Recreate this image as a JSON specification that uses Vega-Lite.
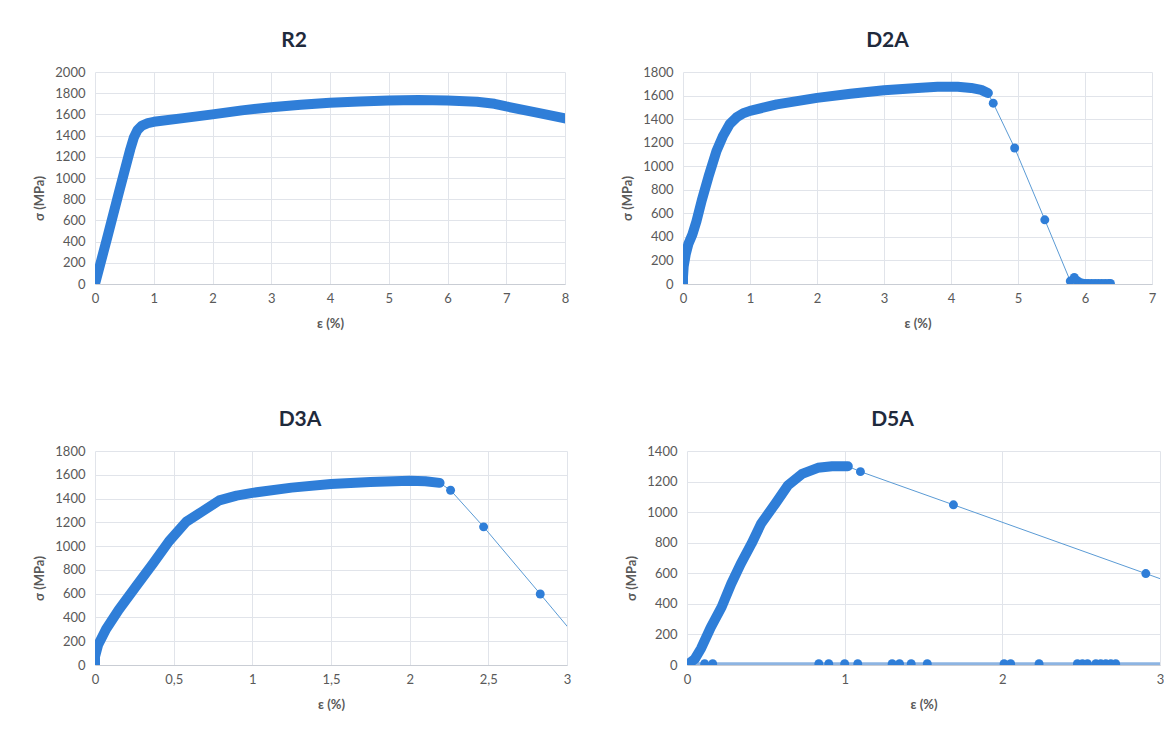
{
  "$schema": "https://vega.github.io/schema/vega-lite/v6.json",
  "background": "white",
  "padding": {"left": 33, "top": 30, "right": 0, "bottom": 0},
  "bounds": "flush",
  "spacing": 379,
  "config": {
    "font": "Lato",
    "view": {"stroke": null},
    "axis": {
      "labelFont": "Lato", "labelFontSize": 13, "labelColor": "#595959",
      "titleFont": "Lato", "titleFontSize": 13, "titleFontWeight": "bold", "titleColor": "#595959",
      "grid": true, "gridColor": "#e1e4ea", "gridWidth": 1,
      "ticks": false, "labelFlush": false, "labelOverlap": false, "domain": false
    },
    "axisX": {"domain": true, "domainColor": "#c9cdd4", "labelPadding": 8, "titlePadding": 12},
    "axisY": {"labelPadding": 10, "titlePadding": 8, "format": "d"},
    "title": {"font": "Lato", "fontSize": 21, "fontWeight": "bold", "color": "#1f2a3c", "anchor": "middle", "offset": 15}
  },
  "datasets": {
    "r2": [
      {"e": 0, "s": 0, "k": "c"}, {"e": 0.2, "s": 420, "k": "c"}, {"e": 0.4, "s": 850, "k": "c"}, {"e": 0.6, "s": 1270, "k": "c"},
      {"e": 0.66, "s": 1380, "k": "c"}, {"e": 0.72, "s": 1450, "k": "c"}, {"e": 0.8, "s": 1495, "k": "c"}, {"e": 0.9, "s": 1518, "k": "c"},
      {"e": 1.0, "s": 1530, "k": "c"}, {"e": 1.5, "s": 1565, "k": "c"}, {"e": 2.0, "s": 1600, "k": "c"}, {"e": 2.5, "s": 1638, "k": "c"},
      {"e": 3.0, "s": 1668, "k": "c"}, {"e": 3.5, "s": 1692, "k": "c"}, {"e": 4.0, "s": 1710, "k": "c"}, {"e": 4.5, "s": 1722, "k": "c"},
      {"e": 5.0, "s": 1730, "k": "c"}, {"e": 5.5, "s": 1735, "k": "c"}, {"e": 6.0, "s": 1730, "k": "c"}, {"e": 6.5, "s": 1720, "k": "c"},
      {"e": 6.8, "s": 1700, "k": "c"}, {"e": 7.0, "s": 1675, "k": "c"}, {"e": 7.5, "s": 1620, "k": "c"}, {"e": 8.0, "s": 1562, "k": "c"}
    ],
    "d2a": [
      {"e": 0, "s": 0, "k": "c"}, {"e": 0, "s": 60, "k": "c"}, {"e": 0.01, "s": 150, "k": "c"}, {"e": 0.04, "s": 250, "k": "c"},
      {"e": 0.08, "s": 340, "k": "c"}, {"e": 0.14, "s": 420, "k": "c"}, {"e": 0.2, "s": 530, "k": "c"}, {"e": 0.28, "s": 710, "k": "c"},
      {"e": 0.38, "s": 910, "k": "c"}, {"e": 0.5, "s": 1130, "k": "c"}, {"e": 0.6, "s": 1260, "k": "c"}, {"e": 0.7, "s": 1360, "k": "c"},
      {"e": 0.8, "s": 1415, "k": "c"}, {"e": 0.9, "s": 1450, "k": "c"}, {"e": 1.0, "s": 1470, "k": "c"}, {"e": 1.4, "s": 1525, "k": "c"},
      {"e": 2.0, "s": 1580, "k": "c"}, {"e": 2.5, "s": 1615, "k": "c"}, {"e": 3.0, "s": 1645, "k": "c"}, {"e": 3.5, "s": 1665, "k": "c"},
      {"e": 3.8, "s": 1675, "k": "c"}, {"e": 4.1, "s": 1675, "k": "c"}, {"e": 4.3, "s": 1665, "k": "c"}, {"e": 4.45, "s": 1648, "k": "c"},
      {"e": 4.55, "s": 1622, "k": "c"},
      {"e": 4.63, "s": 1535, "k": "p"}, {"e": 4.95, "s": 1155, "k": "p"}, {"e": 5.4, "s": 545, "k": "p"}, {"e": 5.78, "s": 25, "k": "p"},
      {"e": 5.84, "s": 55, "k": "p"}, {"e": 5.88, "s": 30, "k": "p"}, {"e": 5.93, "s": 12, "k": "p"}, {"e": 5.97, "s": 6, "k": "p"},
      {"e": 6.01, "s": 5, "k": "p"}, {"e": 6.05, "s": 5, "k": "p"}, {"e": 6.1, "s": 5, "k": "p"}, {"e": 6.15, "s": 5, "k": "p"},
      {"e": 6.2, "s": 5, "k": "p"}, {"e": 6.25, "s": 5, "k": "p"}, {"e": 6.3, "s": 5, "k": "p"}, {"e": 6.35, "s": 5, "k": "p"},
      {"e": 6.38, "s": 5, "k": "p"}
    ],
    "d3a": [
      {"e": 0, "s": 0, "k": "c"}, {"e": 0, "s": 70, "k": "c"}, {"e": 0.02, "s": 170, "k": "c"}, {"e": 0.07, "s": 300, "k": "c"},
      {"e": 0.15, "s": 463, "k": "c"}, {"e": 0.26, "s": 660, "k": "c"}, {"e": 0.37, "s": 855, "k": "c"}, {"e": 0.47, "s": 1040, "k": "c"},
      {"e": 0.58, "s": 1205, "k": "c"}, {"e": 0.68, "s": 1290, "k": "c"}, {"e": 0.79, "s": 1385, "k": "c"}, {"e": 0.9, "s": 1425, "k": "c"},
      {"e": 1.0, "s": 1448, "k": "c"}, {"e": 1.25, "s": 1492, "k": "c"}, {"e": 1.5, "s": 1522, "k": "c"}, {"e": 1.75, "s": 1540, "k": "c"},
      {"e": 2.0, "s": 1550, "k": "c"}, {"e": 2.1, "s": 1545, "k": "c"}, {"e": 2.19, "s": 1532, "k": "c"},
      {"e": 2.26, "s": 1470, "k": "p"}, {"e": 2.47, "s": 1162, "k": "p"}, {"e": 2.83, "s": 597, "k": "p"}, {"e": 3.2, "s": 10, "k": "x"}
    ],
    "d5a": [
      {"e": 0, "s": 0, "k": "c"}, {"e": 0.05, "s": 40, "k": "c"}, {"e": 0.09, "s": 110, "k": "c"}, {"e": 0.15, "s": 245, "k": "c"},
      {"e": 0.22, "s": 380, "k": "c"}, {"e": 0.28, "s": 530, "k": "c"}, {"e": 0.34, "s": 660, "k": "c"}, {"e": 0.41, "s": 795, "k": "c"},
      {"e": 0.47, "s": 925, "k": "c"}, {"e": 0.56, "s": 1055, "k": "c"}, {"e": 0.64, "s": 1175, "k": "c"}, {"e": 0.73, "s": 1250, "k": "c"},
      {"e": 0.83, "s": 1290, "k": "c"}, {"e": 0.92, "s": 1300, "k": "c"}, {"e": 1.02, "s": 1300, "k": "c"},
      {"e": 1.1, "s": 1265, "k": "p"}, {"e": 1.69, "s": 1048, "k": "p"}, {"e": 2.91, "s": 598, "k": "p"}, {"e": 3.3, "s": 455, "k": "x"}
    ],
    "d5z": [
      {"e": 0, "s": 8, "k": "x"}, {"e": 0.112, "s": 8, "k": "p"}, {"e": 0.163, "s": 8, "k": "p"}, {"e": 0.836, "s": 8, "k": "p"},
      {"e": 0.899, "s": 8, "k": "p"}, {"e": 1.0, "s": 8, "k": "p"}, {"e": 1.083, "s": 8, "k": "p"}, {"e": 1.301, "s": 8, "k": "p"},
      {"e": 1.348, "s": 8, "k": "p"}, {"e": 1.422, "s": 8, "k": "p"}, {"e": 1.524, "s": 8, "k": "p"}, {"e": 2.011, "s": 8, "k": "p"},
      {"e": 2.053, "s": 8, "k": "p"}, {"e": 2.233, "s": 8, "k": "p"}, {"e": 2.476, "s": 8, "k": "p"}, {"e": 2.508, "s": 8, "k": "p"},
      {"e": 2.54, "s": 8, "k": "p"}, {"e": 2.593, "s": 8, "k": "p"}, {"e": 2.624, "s": 8, "k": "p"}, {"e": 2.656, "s": 8, "k": "p"},
      {"e": 2.688, "s": 8, "k": "p"}, {"e": 2.719, "s": 8, "k": "p"}, {"e": 3.3, "s": 8, "k": "x"}
    ]
  },
  "vconcat": [
    {
      "hconcat": [
        {
          "width": 470, "height": 212,
          "title": {"text": "R2", "dx": -36},
          "data": {"name": "r2"},
          "encoding": {
            "x": {"field": "e", "type": "quantitative", "scale": {"domain": [0, 8], "nice": false, "zero": false}, "axis": {"values": [0, 1, 2, 3, 4, 5, 6, 7, 8], "title": "ε (%)", "format": "d"}},
            "y": {"field": "s", "type": "quantitative", "scale": {"domain": [0, 2000], "nice": false}, "axis": {"values": [0, 200, 400, 600, 800, 1000, 1200, 1400, 1600, 1800, 2000], "title": "σ (MPa)", "titleY": 126}}
          },
          "layer": [
            {"mark": {"type": "line", "color": "#5b9bd5", "strokeWidth": 1, "clip": true}},
            {"transform": [{"filter": "datum.k == 'c'"}], "mark": {"type": "line", "color": "#2f7ed8", "strokeWidth": 10, "strokeCap": "round", "strokeJoin": "round", "clip": true}},
            {"transform": [{"filter": "datum.k == 'p'"}], "mark": {"type": "circle", "color": "#2f7ed8", "size": 80, "opacity": 1, "clip": true}}
          ]
        },
        {
          "width": 469, "height": 212,
          "title": {"text": "D2A", "dx": -30},
          "data": {"name": "d2a"},
          "encoding": {
            "x": {"field": "e", "type": "quantitative", "scale": {"domain": [0, 7], "nice": false, "zero": false}, "axis": {"values": [0, 1, 2, 3, 4, 5, 6, 7], "title": "ε (%)", "format": "d"}},
            "y": {"field": "s", "type": "quantitative", "scale": {"domain": [0, 1800], "nice": false}, "axis": {"values": [0, 200, 400, 600, 800, 1000, 1200, 1400, 1600, 1800], "title": "σ (MPa)", "titleY": 126}}
          },
          "layer": [
            {"mark": {"type": "line", "color": "#5b9bd5", "strokeWidth": 1, "clip": true}},
            {"transform": [{"filter": "datum.k == 'c'"}], "mark": {"type": "line", "color": "#2f7ed8", "strokeWidth": 10, "strokeCap": "round", "strokeJoin": "round", "clip": true}},
            {"transform": [{"filter": "datum.k == 'p'"}], "mark": {"type": "circle", "color": "#2f7ed8", "size": 80, "opacity": 1, "clip": true}}
          ]
        }
      ],
      "spacing": 118,
      "bounds": "flush"
    },
    {
      "hconcat": [
        {
          "width": 472, "height": 214,
          "title": {"text": "D3A", "dx": -31},
          "data": {"name": "d3a"},
          "encoding": {
            "x": {"field": "e", "type": "quantitative", "scale": {"domain": [0, 3], "nice": false, "zero": false}, "axis": {"values": [0, 0.5, 1, 1.5, 2, 2.5, 3], "title": "ε (%)", "labelExpr": "replace(format(datum.value, '~g'), '.', ',')"}},
            "y": {"field": "s", "type": "quantitative", "scale": {"domain": [0, 1800], "nice": false}, "axis": {"values": [0, 200, 400, 600, 800, 1000, 1200, 1400, 1600, 1800], "title": "σ (MPa)", "titleY": 127}}
          },
          "layer": [
            {"mark": {"type": "line", "color": "#5b9bd5", "strokeWidth": 1, "clip": true}},
            {"transform": [{"filter": "datum.k == 'c'"}], "mark": {"type": "line", "color": "#2f7ed8", "strokeWidth": 10, "strokeCap": "round", "strokeJoin": "round", "clip": true}},
            {"transform": [{"filter": "datum.k == 'p'"}], "mark": {"type": "circle", "color": "#2f7ed8", "size": 80, "opacity": 1, "clip": true}}
          ]
        },
        {
          "width": 473, "height": 214,
          "title": {"text": "D5A", "dx": -31},
          "encoding": {
            "x": {"field": "e", "type": "quantitative", "scale": {"domain": [0, 3], "nice": false, "zero": false}, "axis": {"values": [0, 1, 2, 3], "title": "ε (%)", "format": "d"}},
            "y": {"field": "s", "type": "quantitative", "scale": {"domain": [0, 1400], "nice": false}, "axis": {"values": [0, 200, 400, 600, 800, 1000, 1200, 1400], "title": "σ (MPa)", "titleY": 127}}
          },
          "layer": [
            {"data": {"name": "d5z"}, "mark": {"type": "line", "color": "#8db4e2", "strokeWidth": 3, "clip": true}},
            {"data": {"name": "d5z"}, "transform": [{"filter": "datum.k == 'p'"}], "mark": {"type": "circle", "color": "#2f7ed8", "size": 80, "opacity": 1, "clip": true}},
            {"data": {"name": "d5a"}, "mark": {"type": "line", "color": "#5b9bd5", "strokeWidth": 1, "clip": true}},
            {"data": {"name": "d5a"}, "transform": [{"filter": "datum.k == 'c'"}], "mark": {"type": "line", "color": "#2f7ed8", "strokeWidth": 10, "strokeCap": "round", "strokeJoin": "round", "clip": true}},
            {"data": {"name": "d5a"}, "transform": [{"filter": "datum.k == 'p'"}], "mark": {"type": "circle", "color": "#2f7ed8", "size": 80, "opacity": 1, "clip": true}}
          ]
        }
      ],
      "spacing": 120,
      "bounds": "flush"
    }
  ]
}
